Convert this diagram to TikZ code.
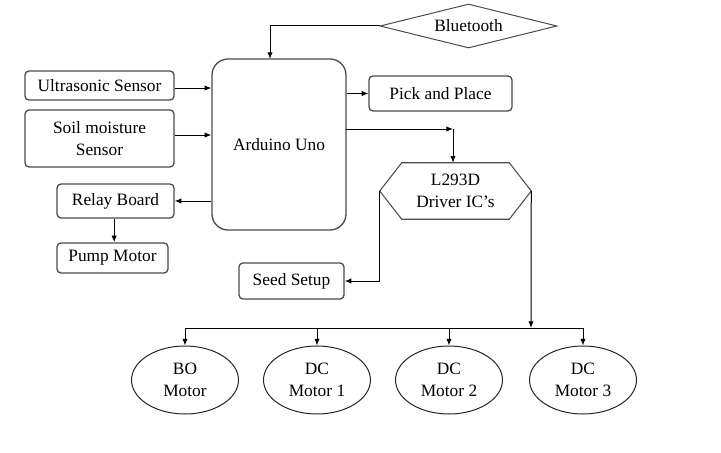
\documentclass[tikz,border=0pt]{standalone}
\usepackage{fontspec}
\setmainfont{Liberation Serif}
\usetikzlibrary{shapes.geometric}
\usetikzlibrary{arrows.meta}

\begin{document}
\begin{tikzpicture}[x=0.75pt,y=-0.75pt,
    every node/.style={font=\rmfamily\fontsize{13}{16.3}\selectfont},
    blk/.style={draw=black!70,line width=1pt,rounded corners=3pt,align=center,inner sep=0pt},
    motor/.style={draw=black!85,line width=0.75pt,ellipse,align=center,inner sep=0pt,minimum width=80.25pt,minimum height=51pt},
    arr/.style={-{Latex[length=5pt,width=4pt]},line width=0.75pt}]
    \useasboundingbox (0,0) rectangle (721,453);

    % 模块
    \node[draw=black!70,line width=0.75pt,diamond,aspect=4,inner sep=0pt,minimum width=132.75pt,minimum height=33pt] (blue) at (468.5,26) {Bluetooth};
    \node[blk,rounded corners=12pt,minimum width=100.5pt,minimum height=128.25pt] (ard) at (279,144.5) {Arduino Uno};
    \node[blk,minimum width=111.75pt,minimum height=21.75pt] (ultra) at (99.5,85.5) {Ultrasonic Sensor};
    \node[blk,minimum width=111.75pt,minimum height=42.75pt] (soil) at (99.5,138.5) {Soil moisture\\Sensor};
    \node[blk,minimum width=87.75pt,minimum height=25.5pt] (relay) at (115.5,201) {Relay Board};
    \node[blk,minimum width=83.25pt,minimum height=22.5pt] (pump) at (112.5,258) {Pump Motor};
    \node[blk,minimum width=107.25pt,minimum height=26.25pt] (pick) at (440.5,93.5) {Pick and Place};
    \node[blk,minimum width=78.75pt,minimum height=27pt] (seed) at (291.5,281) {Seed Setup};
    \node[align=center,inner sep=0pt,minimum width=113.25pt,minimum height=42pt] (drv) at (455.5,191) {L293D\\Driver IC’s};
    \draw[black!70,line width=0.8pt] (drv.west) -- ([xshift=16.5pt]drv.north west) -- ([xshift=-16.5pt]drv.north east) -- (drv.east) -- ([xshift=-16.5pt]drv.south east) -- ([xshift=16.5pt]drv.south west) -- cycle;  % 六边形

    % 电机
    \node[motor] (m1) at (185,380) {BO\\Motor};
    \node[motor] (m2) at (317,380) {DC\\Motor 1};
    \node[motor] (m3) at (449,380) {DC\\Motor 2};
    \node[motor] (m4) at (583,380) {DC\\Motor 3};

    \coordinate (btin) at (270,59);
    \coordinate (ardout) at (346,129);
    \coordinate (corner) at (453,129);
    \coordinate (bus) at (531,328);

    % 连线
    \draw[arr] (blue.west) -| (btin);
    \draw[arr] ([yshift=-1.9pt]ultra.east) -- ([yshift=-1.9pt]ultra.east -| ard.west);
    \draw[arr] ([yshift=2.6pt]soil.east) -- ([yshift=2.6pt]soil.east -| ard.west);
    \draw[arr] (relay.east -| ard.west) -- (relay.east);
    \draw[arr] ([xshift=-1pt]relay.south) -- ([xshift=-1pt]relay.south |- pump.north);
    \draw[arr] (pick.west -| ard.east) -- (pick.west);
    \draw[arr] (ardout) -- (corner);
    \draw[arr] (corner) -- (corner |- drv.north);
    \draw[arr] (drv.west) |- (seed.east);
    \draw[arr] (drv.east) -- (bus);

    \draw[line width=0.75pt] (m1.north |- bus) -- (m4.north |- bus);
    \draw[arr] (m1.north |- bus) -- (m1.north);
    \draw[arr] (m2.north |- bus) -- (m2.north);
    \draw[arr] (m3.north |- bus) -- (m3.north);
    \draw[arr] (m4.north |- bus) -- (m4.north);

\end{tikzpicture}
\end{document}
